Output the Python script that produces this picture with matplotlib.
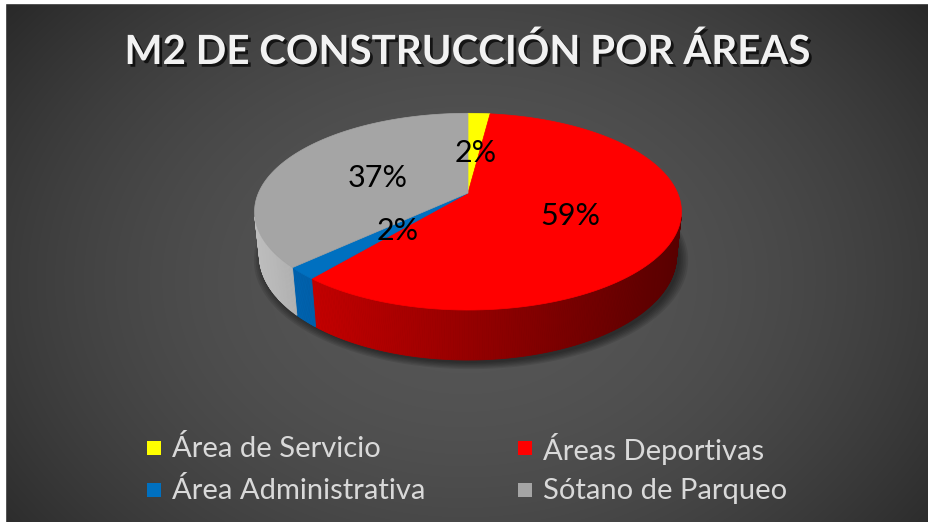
import numpy as np
import matplotlib
matplotlib.use('Agg')
import matplotlib.pyplot as plt
from matplotlib.patches import Polygon, Rectangle
import matplotlib.patheffects as pe

# data
categories = ['Área de Servicio', 'Áreas Deportivas', 'Área Administrativa', 'Sótano de Parqueo']
shares = [2, 59, 2, 37]
top_colors = ['#ffff00', '#ff0000', '#0070c0', '#a5a5a5']
# side wall colour at the left end and the right end of the pie
wall_light = ['#e0e000', '#d40000', '#0068b8', '#bdbdbd']
wall_dark = ['#606000', '#580000', '#002a50', '#505050']
title = 'M2 DE CONSTRUCCIÓN POR ÁREAS'

W, H = 929, 522
fig = plt.figure(figsize=(W / 100, H / 100), dpi=100)
ax = fig.add_axes([0, 0, 1, 1])
ax.set_xlim(0, W)
ax.set_ylim(H, 0)
ax.axis('off')

# radial background
yy, xx = np.mgrid[0:H, 0:W]
d = np.sqrt(((xx - 465) / 560) ** 2 + ((yy - 280) / 420) ** 2) / 1.06
bg = (86 - 46 * d ** 2) / 255
bg = np.clip(bg, 0, 1)
ax.imshow(np.dstack([bg, bg, bg]), extent=(0, W, H, 0), zorder=0)
ax.add_patch(Rectangle((0, 0), W, 3, color='white', zorder=1))
ax.add_patch(Rectangle((0, 0), 5, H, color='white', zorder=1))

# perspective projection of the pie (angles clockwise from the back)
cx, cy = 468, 193
f_len, dist = 985, 4.70
sa = np.sin(np.radians(26.9))
ca = np.cos(np.radians(26.9))
depth = 0.237


def proj(t, r=1.0, z=0.0):
    t = np.radians(t)
    x3 = r * np.sin(t)
    y3 = r * np.cos(t)
    den = dist + y3 * ca - z * sa
    up = y3 * sa + z * ca
    return cx + f_len * x3 / den, cy - f_len * up / den


def mix(c1, c2, k):
    a = np.array(matplotlib.colors.to_rgb(c1))
    b = np.array(matplotlib.colors.to_rgb(c2))
    return tuple(a * (1 - k) + b * k)


total = sum(shares)
bounds = np.concatenate([[0], np.cumsum(shares) / total * 360])

# soft shadow under the pie
ts = np.linspace(0, 360, 200)
for i in range(6):
    sx, sy = proj(ts, 1.0 + 0.008 * i, -depth)
    ax.add_patch(Polygon(np.column_stack([sx + 3, sy + 3]), closed=True,
                         facecolor='black', edgecolor='none', alpha=0.09, zorder=2))

# visible part of the outer wall
t_vis = np.degrees(np.arccos(-1 / (dist * ca)))
for i in range(len(shares)):
    a0 = max(bounds[i], t_vis)
    a1 = min(bounds[i + 1], 360 - t_vis)
    if a1 <= a0:
        continue
    steps = np.linspace(a0, a1, max(int((a1 - a0) * 2), 2))
    for s0, s1 in zip(steps[:-1], steps[1:]):
        x0t, y0t = proj(s0)
        x1t, y1t = proj(s1)
        x0b, y0b = proj(s0, z=-depth)
        x1b, y1b = proj(s1, z=-depth)
        xn = ((x0t + x1t) / 2 - cx) / 214
        col = mix(wall_light[i], wall_dark[i], (xn + 1) / 2)
        ax.add_patch(Polygon([(x0t, y0t), (x1t, y1t), (x1b, y1b), (x0b, y0b)],
                             closed=True, facecolor=col, edgecolor=col,
                             linewidth=0.6, zorder=3))

# top faces and value labels
label_r = [0.5, 0.5, 0.47, 0.5]
for i in range(len(shares)):
    arc = np.linspace(bounds[i], bounds[i + 1], 120)
    px, py = proj(arc)
    pts = np.vstack([[cx, cy], np.column_stack([px, py])])
    ax.add_patch(Polygon(pts, closed=True, facecolor=top_colors[i],
                         edgecolor=top_colors[i], linewidth=0.5, zorder=4))
    lx, ly = proj((bounds[i] + bounds[i + 1]) / 2, label_r[i])
    ax.text(lx + 2, ly + 3, f'{shares[i]}%', ha='center', va='center', fontsize=22,
            family='Lato', color='black', zorder=5)

ax.text(467, 52, title, ha='center', va='center', fontsize=29, fontweight='bold',
        family='Lato', color='#f2f2f2', zorder=5,
        path_effects=[pe.SimplePatchShadow(offset=(2, -2), shadow_rgbFace='black', alpha=0.7),
                      pe.Normal()])

# legend, two columns
leg_x = [147, 518]
leg_y = [448, 490]
for i, name in enumerate(categories):
    x = leg_x[i % 2]
    y = leg_y[i // 2]
    ax.add_patch(Rectangle((x, y - 7), 14, 14, facecolor=top_colors[i], edgecolor='none', zorder=5))
    ax.text(x + 25, y + 1, name, ha='left', va='center', fontsize=21,
            family='Lato', color='#d9d9d9', zorder=5)

fig.savefig('out.png', dpi=100)
